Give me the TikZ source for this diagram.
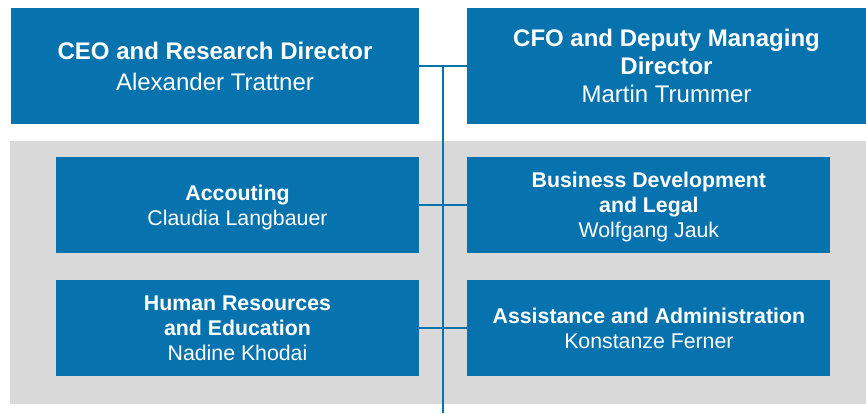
\documentclass[tikz,border=0pt]{standalone}
\usepackage{fontspec}
\setmainfont{Liberation Sans}
\usetikzlibrary{positioning}
\definecolor{boxblue}{RGB}{7,115,174}
\definecolor{panelgrey}{RGB}{217,217,217}
\tikzset{
    unit/.style={fill=boxblue, text=white, align=center, inner sep=0pt,
        text depth=0pt, minimum width=363pt, minimum height=96pt,
        font=\fontsize{21.3}{25.2}\selectfont},
    board/.style={unit, minimum height=116pt, font=\fontsize{24}{28}\selectfont},
    link/.style={draw=boxblue, line width=2.3pt}
}

\begin{document}
\begin{tikzpicture}[x=1pt, y=-1pt]
    \useasboundingbox (0,0) rectangle (866,413);
    % grey panel behind the departments
    \fill[panelgrey] (10,141) rectangle (866,404);
    % management
    \node[board, minimum width=408pt] (ceo) at (215,66)
        {\textbf{CEO and Research Director}\\[3pt]Alexander Trattner};
    \node[board, minimum width=399pt] (cfo) at (666.5,66)
        {\textbf{CFO and Deputy Managing}\\\textbf{Director}\\Martin Trummer};
    % departments
    \node[unit] (acc) at (237.5,205) {\textbf{Accouting}\\Claudia Langbauer};
    \node[unit, right=48pt of acc] (bus)
        {\textbf{Business Development}\\\textbf{and Legal}\\Wolfgang Jauk};
    \node[unit] (hr) at (237.5,328)
        {\textbf{Human Resources}\\\textbf{and Education}\\Nadine Khodai};
    \node[unit, right=48pt of hr] (ass)
        {\textbf{Assistance and Administration}\\Konstanze Ferner};
    \coordinate (top) at (443,66);
    \coordinate (foot) at (443,413);
    \foreach \l/\r in {ceo/cfo, acc/bus, hr/ass}{
        \draw[link] (\l.east) -- (\r.west);
    }
    \draw[link] (top) -- (foot);
\end{tikzpicture}
\end{document}
